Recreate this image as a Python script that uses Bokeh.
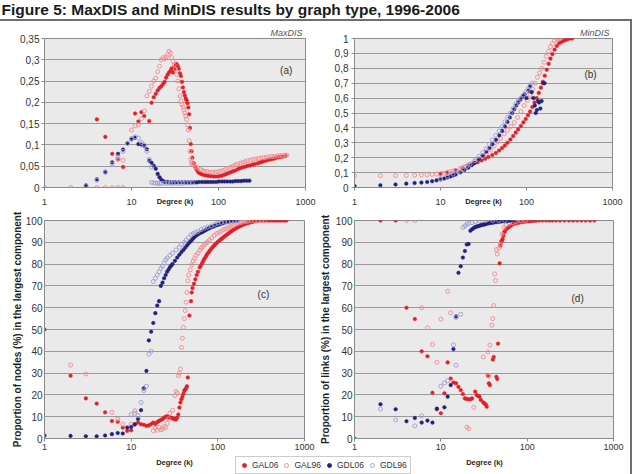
import math
from bokeh.plotting import figure
from bokeh.layouts import column, row
from bokeh.models import (Range1d, FixedTicker, CustomJSTickFormatter, Label,
                          Legend, LegendItem)
from bokeh.embed import file_html
from bokeh.resources import INLINE

FONT = "Liberation Sans"
RED = "#e41e26"
PINK = "#f08a8e"
NAVY = "#22227c"
LAV = "#9d9dd2"
PLOT_BG = "#eaeaea"
GRID = "#9a9a9a"
EDGE = "#8a8a8a"

TITLE = "Figure 5: MaxDIS and MinDIS results by graph type, 1996-2006"
SERIES = ["GAL06", "GAL96", "GDL06", "GDL96"]
X_TICKS = [1, 10, 100, 1000]
Y_TICKS_A = [0, 0.05, 0.1, 0.15, 0.2, 0.25, 0.3, 0.35]
Y_TICKS_B = [0, 0.1, 0.2, 0.3, 0.4, 0.5, 0.6, 0.7, 0.8, 0.9, 1]
Y_TICKS_CD = [0, 10, 20, 30, 40, 50, 60, 70, 80, 90, 100]

# ---------------- panel (a) MaxDIS density: (degree k, gamma) ----------------
a_gal06 = [(4, 0.160), (5, 0.119), (6, 0.079), (7, 0.066), (8, 0.048), (11, 0.174), (12, 0.155),
           (13, 0.177), (14, 0.168), (16, 0.156), (17, 0.199), (18, 0.212), (19, 0.220), (20, 0.228),
           (21, 0.234), (22, 0.238), (23, 0.243), (24, 0.248), (25, 0.258), (26, 0.265), (27, 0.270),
           (28, 0.274), (29, 0.280), (30, 0.270), (31, 0.278), (32, 0.286), (33, 0.290), (34, 0.285),
           (35, 0.279), (36, 0.268), (37, 0.262), (38, 0.248), (39, 0.235), (40, 0.224), (41, 0.216),
           (42, 0.209), (43, 0.205), (44, 0.198), (45, 0.188), (46, 0.172), (47, 0.140), (48, 0.102),
           (49, 0.085), (50, 0.070), (52, 0.057), (54, 0.048), (56, 0.042), (58, 0.037), (60, 0.034),
           (63, 0.032), (66, 0.030), (70, 0.029), (74, 0.028), (78, 0.027), (82, 0.027), (87, 0.026),
           (92, 0.026), (98, 0.026), (104, 0.027), (110, 0.028), (117, 0.030), (124, 0.032), (131, 0.034),
           (139, 0.036), (147, 0.038), (156, 0.040), (166, 0.043), (176, 0.045), (186, 0.047), (196, 0.048),
           (208, 0.050), (220, 0.051), (233, 0.052), (247, 0.054), (262, 0.055), (283, 0.057), (300, 0.059),
           (315, 0.060), (330, 0.062), (350, 0.063), (371, 0.065), (393, 0.066), (416, 0.067), (441, 0.068),
           (467, 0.070), (495, 0.071), (525, 0.072), (556, 0.073), (590, 0.074)]
a_gal96 = [(3, 0.0), (4, 0.0), (5, 0.0), (6, 0.0), (7, 0.0), (8, 0.0), (7, 0.067), (8, 0.064),
           (10, 0.135), (11, 0.145), (12, 0.147), (13, 0.162), (14, 0.180), (15, 0.215), (16, 0.226),
           (17, 0.238), (18, 0.250), (19, 0.257), (20, 0.272), (21, 0.285), (22, 0.300), (23, 0.305),
           (24, 0.302), (25, 0.307), (26, 0.312), (27, 0.320), (28, 0.316), (29, 0.305), (30, 0.296),
           (31, 0.288), (32, 0.278), (33, 0.265), (34, 0.250), (35, 0.232), (36, 0.215), (37, 0.203),
           (38, 0.195), (39, 0.189), (40, 0.182), (41, 0.175), (42, 0.168), (43, 0.160), (44, 0.147),
           (45, 0.135), (46, 0.110), (47, 0.085), (48, 0.066), (49, 0.058), (50, 0.055), (52, 0.052),
           (55, 0.048), (58, 0.045), (62, 0.042), (66, 0.040), (70, 0.038), (75, 0.037), (80, 0.036),
           (86, 0.036), (92, 0.036), (98, 0.037), (105, 0.038), (112, 0.040), (120, 0.042), (128, 0.045),
           (137, 0.047), (146, 0.050), (156, 0.053), (166, 0.055), (178, 0.057), (190, 0.059), (203, 0.061),
           (217, 0.063), (233, 0.064), (250, 0.066), (268, 0.067), (287, 0.068), (307, 0.069), (330, 0.070),
           (355, 0.071), (382, 0.072), (410, 0.073), (440, 0.073), (472, 0.074), (506, 0.075), (543, 0.075),
           (582, 0.076), (610, 0.076)]
a_gdl06 = [(3, 0.005), (4, 0.019), (5, 0.037), (6, 0.059), (7, 0.079), (8, 0.089), (9, 0.104),
           (10, 0.113), (11, 0.117), (12, 0.102), (13, 0.101), (14, 0.098), (15, 0.090), (16, 0.063),
           (17, 0.058), (18, 0.051), (19, 0.044), (20, 0.032), (21, 0.024), (22, 0.018), (23, 0.015),
           (24, 0.013), (26, 0.013), (28, 0.012), (30, 0.012), (32, 0.012), (35, 0.012), (38, 0.012),
           (41, 0.012), (44, 0.012), (48, 0.012), (52, 0.012), (56, 0.012), (60, 0.013), (65, 0.013),
           (70, 0.013), (75, 0.013), (81, 0.013), (87, 0.013), (94, 0.013), (101, 0.014), (109, 0.014),
           (117, 0.014), (126, 0.014), (136, 0.014), (146, 0.014), (157, 0.015), (169, 0.015), (182, 0.015),
           (196, 0.016), (211, 0.016), (227, 0.016)]
a_gdl96 = [(1, 0.0), (2, 0.0), (3, 0.004), (4, 0.017), (5, 0.035), (6, 0.055), (7, 0.072), (8, 0.085),
           (9, 0.103), (10, 0.115), (11, 0.119), (12, 0.116), (13, 0.106), (14, 0.100), (15, 0.085),
           (16, 0.066), (17, 0.048), (17, 0.012), (18, 0.011), (19, 0.010), (20, 0.010), (21, 0.010),
           (22, 0.010), (24, 0.010), (26, 0.010), (28, 0.010), (30, 0.010), (33, 0.010), (36, 0.010),
           (39, 0.010), (42, 0.011), (46, 0.011), (50, 0.011)]

# ---------------- panel (b) MinDIS density ----------------
b_gal06 = [(10, 0.090), (12, 0.100), (15, 0.115), (18, 0.130), (21, 0.145), (24, 0.158), (27, 0.170),
           (30, 0.182), (33, 0.193), (36, 0.205), (40, 0.218), (44, 0.232), (48, 0.248), (52, 0.265),
           (56, 0.282), (60, 0.300), (65, 0.322), (70, 0.345), (75, 0.368), (80, 0.390), (86, 0.412),
           (92, 0.437), (98, 0.460), (104, 0.485), (110, 0.510), (117, 0.540), (124, 0.570), (131, 0.600),
           (139, 0.635), (147, 0.670), (155, 0.710), (163, 0.750), (172, 0.790), (181, 0.830), (190, 0.865),
           (200, 0.895), (212, 0.925), (225, 0.950), (240, 0.968), (255, 0.978), (270, 0.985), (285, 0.990),
           (300, 0.995), (320, 1.0), (340, 1.0)]
b_gal96 = [(1, 0.079), (2, 0.080), (3, 0.080), (4, 0.081), (5, 0.083), (6, 0.085), (7, 0.086),
           (8, 0.088), (9, 0.090), (10, 0.093), (11, 0.097), (12, 0.101), (13, 0.106), (14, 0.111),
           (15, 0.116), (17, 0.128), (19, 0.140), (21, 0.152), (23, 0.163), (25, 0.175), (28, 0.192),
           (31, 0.210), (34, 0.228), (38, 0.252), (42, 0.278), (46, 0.305), (50, 0.330), (55, 0.360),
           (60, 0.385), (66, 0.410), (72, 0.435), (79, 0.470), (86, 0.510), (94, 0.550), (102, 0.585),
           (110, 0.620), (118, 0.660), (126, 0.700), (134, 0.740), (142, 0.770), (150, 0.800), (160, 0.840),
           (170, 0.880), (180, 0.915), (190, 0.945), (200, 0.965), (212, 0.985), (225, 0.995), (240, 1.0),
           (250, 1.0)]
b_gdl06 = [(1, 0.010), (2, 0.015), (3, 0.020), (4, 0.026), (5, 0.030), (6, 0.033), (7, 0.037),
           (8, 0.042), (9, 0.048), (10, 0.054), (11, 0.060), (12, 0.067), (13, 0.074), (14, 0.081),
           (15, 0.088), (17, 0.102), (19, 0.118), (21, 0.133), (23, 0.150), (25, 0.165), (28, 0.190),
           (31, 0.215), (34, 0.240), (37, 0.265), (40, 0.290), (44, 0.320), (48, 0.350), (52, 0.380),
           (56, 0.410), (60, 0.440), (64, 0.470), (68, 0.500), (72, 0.525), (76, 0.550), (80, 0.570),
           (85, 0.590), (90, 0.610), (95, 0.625), (100, 0.600), (105, 0.650), (110, 0.680), (115, 0.640),
           (120, 0.600), (125, 0.550), (128, 0.500), (132, 0.520), (136, 0.580), (140, 0.570), (145, 0.530),
           (150, 0.580), (156, 0.700), (162, 0.700)]
b_gdl96 = [(10, 0.060), (12, 0.075), (14, 0.090), (16, 0.105), (18, 0.120), (20, 0.140), (22, 0.155),
           (25, 0.180), (28, 0.210), (31, 0.235), (34, 0.260), (37, 0.290), (40, 0.320), (44, 0.350),
           (48, 0.380), (52, 0.410), (56, 0.440), (60, 0.470), (65, 0.500), (70, 0.530), (75, 0.560),
           (80, 0.580), (86, 0.600), (92, 0.620), (98, 0.640), (104, 0.660), (110, 0.680), (116, 0.700)]

# ---------------- panel (c) proportion of nodes (%) ----------------
c_gal06 = [(1, 50), (2, 28.8), (3, 18.4), (4, 16), (5, 12), (6, 8), (7, 7.7), (8, 5), (9, 3.5), (10, 3.8),
           (11, 6.6), (12, 7.3), (13, 6.5), (14, 6.3), (15, 5.8), (16, 6.0), (17, 6.6), (18, 7.3), (19, 6.6),
           (20, 7.5), (21, 8.1), (22, 8.5), (23, 8.9), (24, 9.5), (25, 10), (26, 10.2), (27, 9.8), (28, 9.6),
           (29, 9.5), (30, 9.3), (31, 9.0), (32, 8.8), (33, 8.7), (34, 9.6), (35, 11), (36, 14.2), (37, 16.5),
           (38, 18), (39, 19.1), (40, 20.5), (41, 21.9), (42, 22.5), (43, 23), (44, 24), (45, 28), (47, 56.4),
           (49, 63), (50, 67), (51, 69), (53, 71), (55, 73), (57, 75), (59, 76.5), (62, 78.5), (64, 79.5),
           (66, 80.5), (68, 81.5), (70, 82.5), (73, 83.5), (75, 84.5), (78, 85.3), (80, 86), (83, 86.8),
           (86, 87.5), (89, 88.2), (92, 88.8), (96, 89.5), (100, 90.2), (104, 90.8), (108, 91.3), (112, 91.8),
           (116, 92.3), (120, 92.8), (125, 93.3), (130, 93.8), (135, 94.3), (140, 94.8), (145, 95.2),
           (151, 95.7), (158, 96.2), (165, 96.6), (172, 97), (180, 97.4), (188, 97.8), (196, 98.1),
           (205, 98.4), (215, 98.7), (225, 98.9), (235, 99.1), (245, 99.3), (257, 99.5), (270, 99.7),
           (285, 99.9), (300, 100), (320, 100), (340, 100), (360, 100), (380, 100), (400, 100), (425, 100),
           (450, 100), (475, 100), (500, 100), (530, 100), (560, 100), (590, 100), (620, 100)]
c_gal96 = [(2, 33.7), (3, 29.6), (6, 12), (7, 8.9), (8, 6.5), (10, 6.6), (11, 11.6), (18, 3.5), (19, 4.7),
           (20, 3.8), (21, 5.2), (22, 4.0), (23, 4.3), (24, 5.5), (25, 5.0), (26, 7), (27, 9), (28, 11.6),
           (30, 13), (32, 19.6), (33, 21.6), (34, 20.8), (35, 28.8), (36, 30), (37, 31.9), (38, 41.8),
           (39, 46), (40, 51), (41, 55), (42, 58.7), (43, 62.5), (44, 67), (45, 72.4), (46, 75), (48, 77.4),
           (50, 79.7), (52, 81.5), (54, 82.5), (56, 84), (59, 85), (62, 86.3), (64, 87.3), (67, 88),
           (70, 88.8), (73, 89.5), (76, 90.2), (80, 91), (85, 92), (91, 93.2), (97, 94), (103, 94.5),
           (109, 95), (116, 95.8), (123, 96.2), (130, 96.6), (138, 97.2), (147, 97.6), (156, 98), (166, 98.5),
           (176, 98.9), (186, 99.1), (198, 99.4), (210, 99.6), (222, 99.7), (240, 99.9), (265, 100),
           (290, 100), (320, 100), (346, 100)]
c_gdl06 = [(1, 1.2), (2, 1.2), (3, 1.0), (4, 1.0), (5, 1.4), (6, 2.0), (7, 2.5), (8, 2.3), (9, 5.0),
           (10, 5.3), (11, 6.4), (12, 9), (13, 13), (14, 23), (15, 31), (16, 45), (17, 49), (18, 53),
           (19, 57.5), (20, 61), (21, 63), (22, 70), (23, 71.5), (24, 73.5), (25, 75), (26, 76.5), (27, 77.5),
           (28, 78.6), (29, 79.3), (30, 80), (32, 81.5), (34, 83), (36, 84.3), (38, 85.5), (40, 86.5),
           (42, 87.5), (44, 88.5), (46, 89.5), (48, 90.3), (50, 91), (52, 91.8), (54, 92.5), (56, 93),
           (58, 93.5), (60, 93.9), (63, 94.3), (66, 94.7), (68, 95), (71, 95.4), (74, 95.8), (77, 96.2),
           (80, 96.5), (84, 96.9), (88, 97.2), (92, 97.5), (96, 97.8), (100, 98), (105, 98.3), (110, 98.6),
           (115, 98.8), (121, 99.1), (128, 99.3), (134, 99.5), (140, 99.7), (147, 99.8), (155, 100),
           (165, 100)]
c_gdl96 = [(1, 1.5), (10, 11), (11, 12.7), (12, 10.5), (13, 16.5), (14, 22), (15, 24), (16, 38.7),
           (17, 40), (18, 72), (19, 73.5), (20, 75), (21, 76.5), (22, 78), (23, 79), (24, 80.5), (25, 82),
           (26, 82.8), (28, 84), (30, 85), (33, 86.5), (36, 87.8), (38, 89), (41, 90), (43, 91), (46, 92.2),
           (49, 93.4), (52, 94), (55, 94.5), (59, 95), (64, 95.8), (70, 96.5), (76, 97), (84, 97.5),
           (92, 98.2), (100, 98.8), (110, 99.1), (120, 99.3), (130, 99.5), (143, 99.8), (156, 100), (170, 100)]

# ---------------- panel (d) proportion of links (%) ----------------
d_gal06 = [(1, 0), (2, 100), (3, 100), (4, 60), (5, 54.8), (6, 40), (7, 37.7), (8, 21), (9, 13.4),
           (10, 11.6), (11, 20.7), (12, 34.9), (13, 27.5), (14, 25.7), (15, 25.3), (16, 23.7), (17, 22.2),
           (18, 20.4), (19, 18.4), (20, 18.1), (21, 18.0), (22, 18.0), (23, 18.4), (25, 21.5), (26, 19.9),
           (27, 19.5), (28, 19.2), (29, 17.7), (31, 16.6), (32, 16.0), (33, 15.7), (34, 14.6), (35, 28.8),
           (36, 25.3), (37, 24.5), (40, 36.2), (41, 37.4), (44, 28.3), (45, 27.3), (46, 43.5), (48, 80.4),
           (49, 88.4), (50, 90.2), (51, 90.8), (52, 91.5), (53, 93), (54, 94.5), (55, 95), (57, 96),
           (59, 96.5), (62, 97), (65, 97.7), (68, 98.3), (72, 98.6), (76, 98.8), (80, 99), (85, 99.2),
           (90, 99.3), (96, 99.5), (103, 99.6), (110, 99.7), (118, 99.8), (127, 99.9), (137, 100),
           (150, 100), (165, 100), (180, 100), (195, 100), (215, 100), (240, 100), (270, 100), (305, 100),
           (340, 100), (380, 100), (425, 100), (475, 100), (535, 100), (600, 100)]
d_gal96 = [(4, 100), (5, 100), (6, 60), (7, 50.8), (8, 43.2), (9, 35), (10, 54.8), (12, 67.5),
           (13, 57.7), (20, 5.2), (21, 4.5), (24, 14.3), (31, 37.4), (35, 39.7), (36, 28.6), (37, 42.8),
           (39, 52), (40, 55), (41, 61), (42, 75.5), (43, 72.5), (44, 86.6), (45, 84.6), (47, 87.4),
           (49, 89.2), (51, 93.8), (54, 96.8), (57, 98), (62, 98.6), (68, 99), (75, 99.5), (85, 99.8),
           (95, 100)]
d_gdl06 = [(2, 15.7), (3, 13.4), (4, 7.9), (5, 9.4), (6, 7.3), (7, 8.2), (8, 7.3), (9, 13.7),
           (11, 14.3), (12, 19.2), (13, 24.5), (14, 41), (15, 56), (16, 76), (17, 79), (18, 83), (19, 86),
           (20, 89), (21, 89.2), (22, 95.3), (23, 96), (24, 96.5), (25, 97), (26, 97.2), (27, 97.4),
           (28, 97.6), (29, 97.8), (30, 98), (31, 98.1), (32, 98.2), (33, 98.4), (34, 98.5), (36, 98.7),
           (38, 98.9), (40, 99), (42, 99.2), (44, 99.3), (46, 99.4), (48, 99.5), (50, 99.6), (53, 99.7),
           (55, 99.75), (58, 99.8), (61, 99.9), (64, 100), (70, 100)]
d_gdl96 = [(2, 13.5), (3, 8.5), (5, 5.8), (6, 10.4), (10, 24), (11, 25.5), (12, 26.5), (14, 43),
           (15, 33.6), (15, 55.5), (17, 57), (18, 96.8), (19, 97.5), (20, 98.3), (21, 98.6), (23, 99),
           (25, 99.4), (28, 99.8), (33, 100), (40, 100), (47, 100), (55, 100)]


def style_axis(ax, label_size, tick_out, standoff):
    ax.axis_line_color = EDGE
    ax.major_tick_line_color = EDGE
    ax.major_tick_in = 0
    ax.major_tick_out = tick_out
    ax.minor_tick_in = 0
    ax.minor_tick_out = 0
    ax.major_label_standoff = standoff
    ax.major_label_text_font = FONT
    ax.major_label_text_font_size = label_size
    ax.major_label_text_color = "#333333"
    ax.axis_label_text_font = FONT
    ax.axis_label_text_font_style = "bold"
    ax.axis_label_text_color = "#1e1e1e"


def make_panel(w, h, bl, br, bt, bb, ymax, yticks, title=None):
    kw = dict(width=w, height=h, x_axis_type="log", x_range=Range1d(1, 1000),
              y_range=Range1d(0, ymax), output_backend="svg", toolbar_location=None,
              min_border_left=bl, min_border_right=br, min_border_top=bt, min_border_bottom=bb)
    if title:
        kw["title"] = title
    p = figure(**kw)
    p.background_fill_color = PLOT_BG
    p.border_fill_color = "white"
    p.outline_line_color = EDGE
    p.xgrid.visible = False
    p.ygrid.grid_line_color = GRID
    p.xaxis.ticker = FixedTicker(ticks=X_TICKS, minor_ticks=[])
    p.xaxis.formatter = CustomJSTickFormatter(code="return String(Math.round(tick));")
    p.yaxis.ticker = FixedTicker(ticks=yticks, minor_ticks=[])
    p.yaxis.formatter = CustomJSTickFormatter(
        code="return String(Math.round(tick*100)/100).replace('.', ',');")
    if title:
        p.title.align = "right"
        p.title.text_font = FONT
        p.title.text_font_style = "italic"
        p.title.text_font_size = "9px"
        p.title.text_color = "#555555"
        p.title.standoff = 2
        p.title.offset = 3
    return p


STYLES = [dict(size=3.6, fill_color=RED, line_color=RED, line_width=0.5),
          dict(size=4, fill_color=None, line_color=PINK, line_width=0.9),
          dict(size=3.6, fill_color=NAVY, line_color=NAVY, line_width=0.5),
          dict(size=4, fill_color=None, line_color=LAV, line_width=0.9)]


def add_series(p, data_list):
    for pairs, st in zip(data_list, STYLES):
        ks = [k for k, _ in pairs]
        vs = [v for _, v in pairs]
        p.scatter(ks, vs, marker="circle", **st)


# ----- row 1 -----
fa = make_panel(316, 191, 44, 11, 17, 25, 0.35, Y_TICKS_A, title="MaxDIS")
fb = make_panel(314, 191, 38, 18, 17, 25, 1.0, Y_TICKS_B, title="MinDIS")
for p in (fa, fb):
    style_axis(p.xaxis[0], "9px", 3, 8)
    style_axis(p.yaxis[0], "10px", 3, 2)
    p.xaxis.axis_label = "Degree (k)"
    p.xaxis.axis_label_text_font_size = "7.5px"
    p.xaxis.axis_label_standoff = -11
fb.yaxis.major_label_standoff = 3
add_series(fa, [a_gal06, a_gal96, a_gdl06, a_gdl96])
add_series(fb, [b_gal06, b_gal96, b_gdl06, b_gdl96])
fa.add_layout(Label(x=0.407, y=0.217, text="Density (Gamma index)", angle=math.pi / 2,
                    text_font=FONT, text_font_style="bold", text_font_size="10px",
                    text_color="#1e1e1e", text_align="center", text_baseline="middle"))
fa.add_layout(Label(x=600, y=0.275, text="(a)", text_font=FONT, text_font_size="10px",
                    text_color="#333333", text_align="center", text_baseline="middle"))
fb.add_layout(Label(x=555, y=0.757, text="(b)", text_font=FONT, text_font_size="10px",
                    text_color="#333333", text_align="center", text_baseline="middle"))

# ----- row 2 -----
fc = make_panel(316, 243, 44, 12, 8, 17, 100, Y_TICKS_CD)
fd = make_panel(314, 243, 38, 17, 8, 17, 100, Y_TICKS_CD)
for p in (fc, fd):
    style_axis(p.xaxis[0], "9px", 3, 2)
    style_axis(p.yaxis[0], "10px", 0, 2)
    p.yaxis.axis_label_text_font_size = "10px"
fc.yaxis.axis_label = "Proportion of nodes (%) in the largest component"
fc.yaxis.axis_label_standoff = 0
fd.yaxis.axis_label = "Proportion of links (%) in the largest component"
fd.yaxis.axis_label_standoff = 2
add_series(fc, [c_gal06, c_gal96, c_gdl06, c_gdl96])
add_series(fd, [d_gal06, d_gal96, d_gdl06, d_gdl96])
fc.add_layout(Label(x=336, y=66, text="(c)", text_font=FONT, text_font_size="10px",
                    text_color="#333333", text_align="center", text_baseline="middle"))
fd.add_layout(Label(x=384, y=64.4, text="(d)", text_font=FONT, text_font_size="10px",
                    text_color="#333333", text_align="center", text_baseline="middle"))

# ----- title strip -----
t = figure(width=632, height=19, x_range=Range1d(0, 632), y_range=Range1d(0, 19),
           output_backend="svg", toolbar_location=None, min_border=0,
           x_axis_location=None, y_axis_location=None)
t.outline_line_color = None
t.xgrid.visible = False
t.ygrid.visible = False
t.add_layout(Label(x=1, y=19, text=TITLE, text_font=FONT, text_font_style="bold",
                   text_font_size="15.5px", text_color="#1a1a1a", text_baseline="top"))

# ----- bottom strip: x titles of (c)/(d) and legend -----
s = figure(width=630, height=19, x_range=Range1d(0, 630), y_range=Range1d(19, 0),
           output_backend="svg", toolbar_location=None, min_border=0,
           x_axis_location=None, y_axis_location=None)
s.outline_line_color = None
s.xgrid.visible = False
s.ygrid.visible = False
for xc in (174, 484):
    s.add_layout(Label(x=xc, y=7, text="Degree (k)", text_font=FONT, text_font_style="bold",
                       text_font_size="7.5px", text_color="#1e1e1e", text_align="center",
                       text_baseline="middle"))
items = []
for name, st in zip(SERIES, STYLES):
    # one off-screen point per series so the legend has a glyph to draw
    r = s.scatter(x=[-100], y=[-100], marker="circle",
                  fill_color=st["fill_color"], line_color=st["line_color"], line_width=0.9)
    items.append(LegendItem(label=name, renderers=[r]))
legend = Legend(items=items, orientation="horizontal", location=(235, 0),
                label_text_font=FONT, label_text_font_size="8.5px", label_text_color="#333333",
                glyph_width=10, glyph_height=10, label_standoff=3, spacing=3, padding=3,
                margin=0, label_height=10, border_line_color="#999999", border_line_width=1,
                background_fill_color="white", background_fill_alpha=1.0)
s.add_layout(legend)

body = column(row(fa, fb), row(fc, fd), s,
              styles={"border-right": "2px solid #6e6e6e", "border-top": "2px solid #6e6e6e"})
layout = column(t, body)

open("out.html", "w").write(file_html(layout, INLINE))
